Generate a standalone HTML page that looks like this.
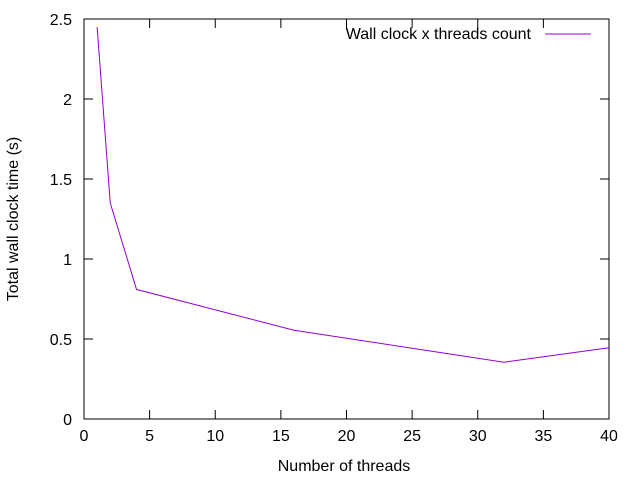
<!DOCTYPE html>
<html><head><meta charset="utf-8"><style>
html,body{margin:0;padding:0;background:#fff;}
svg{display:block;font-family:"Liberation Sans",sans-serif;font-size:16px;}
</style></head><body>
<svg id="chart" width="640" height="480">
<rect x="0" y="0" width="640" height="480" fill="#fff"/>
<g id="axes"></g>
<text x="344" y="471" text-anchor="middle">Number of threads</text>
<text transform="translate(18,219) rotate(-90)" text-anchor="middle">Total wall clock time (s)</text>
<g>
<text x="531" y="39" text-anchor="end">Wall clock x threads count</text>
<line x1="545" y1="34" x2="591" y2="34" stroke="#9400d3" stroke-width="1"/>
</g>
<path id="series" fill="none" stroke="#9400d3" stroke-width="1"/>
</svg>
<script>
const threads = [1, 2, 4, 16, 32, 40];
const wallTimes = [2.45, 1.35, 0.81, 0.555, 0.355, 0.445];
const xTicks = [0, 5, 10, 15, 20, 25, 30, 35, 40];
const yTicks = [0, 0.5, 1, 1.5, 2, 2.5];
const yTickLabels = ["0", "0.5", "1", "1.5", "2", "2.5"];

const L=84,R=609,T=19,B=419;
const xs=v=>L+(v-0)/(40-0)*(R-L);
const ys=v=>B-(v-0)/(2.5-0)*(B-T);
const NS="http://www.w3.org/2000/svg";
const axes=document.getElementById('axes');
function mk(tag,attrs){const e=document.createElementNS(NS,tag);for(const k in attrs)e.setAttribute(k,attrs[k]);return e;}

const frame=mk('rect',{x:L,y:T,width:R-L,height:B-T,fill:'none',stroke:'#000','stroke-width':1});


axes.appendChild(frame);

xTicks.forEach(v=>{
  const x=xs(v);
  const t1=mk('line',{x1:x,y1:B,x2:x,y2:B-9,stroke:'#000'});
  
  
  axes.appendChild(t1);
  const t2=mk('line',{x1:x,y1:T,x2:x,y2:T+9,stroke:'#000'});
  
  
  axes.appendChild(t2);
  const lb=mk('text',{x:x,y:B+22,'text-anchor':'middle'});
  lb.textContent=String(v);
  
  
  axes.appendChild(lb);
});
yTicks.forEach((v,i)=>{
  const y=ys(v);
  const t1=mk('line',{x1:L,y1:y,x2:L+9,y2:y,stroke:'#000'});
  
  
  axes.appendChild(t1);
  const t2=mk('line',{x1:R,y1:y,x2:R-9,y2:y,stroke:'#000'});
  
  
  axes.appendChild(t2);
  const lb=mk('text',{x:L-12,y:y+6,'text-anchor':'end'});
  lb.textContent=yTickLabels[i];
  
  
  axes.appendChild(lb);
});
document.getElementById('series').setAttribute('d',threads.map((t,i)=>(i?'L':'M')+xs(t)+' '+ys(wallTimes[i])).join(' '));
</script>
</body></html>
